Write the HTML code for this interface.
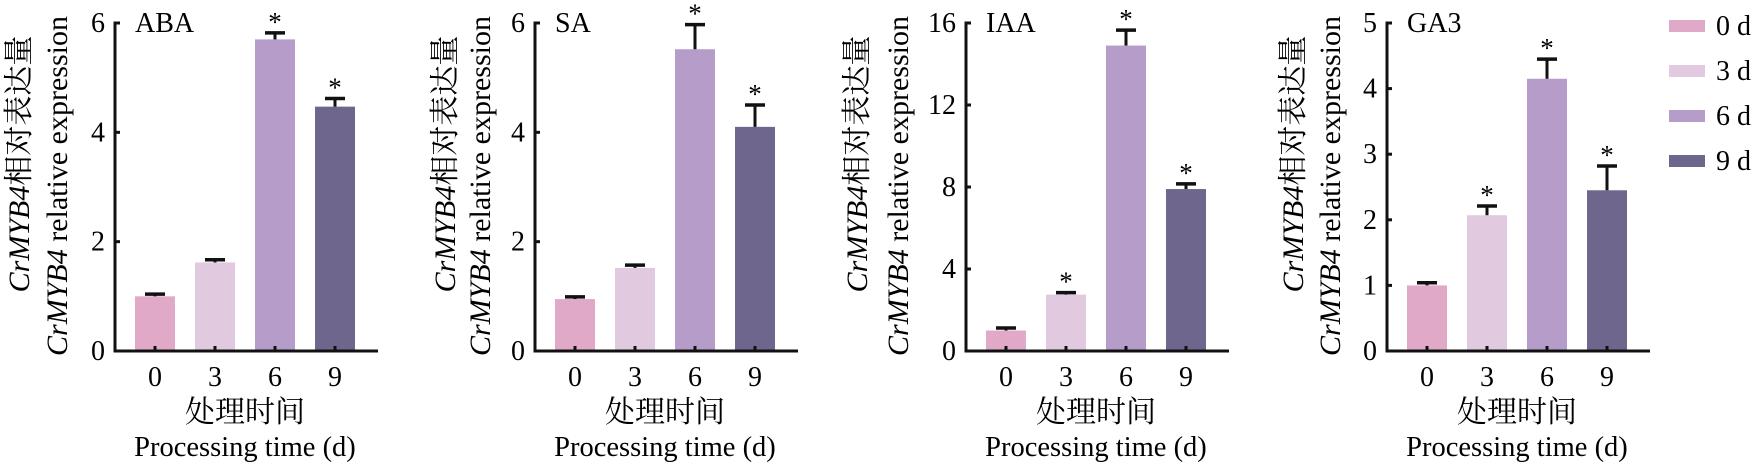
<!DOCTYPE html>
<html><head><meta charset="utf-8"><style>
body{margin:0;background:#fff;}
svg{display:block;font-family:"Liberation Serif","Noto Serif CJK SC",serif;}
</style></head><body>
<svg id="s" width="1757" height="471" viewBox="0 0 1757 471" xmlns="http://www.w3.org/2000/svg"></svg>
<script>
const cols=["#e0a9c8","#e1c9e0","#b69dc9","#6e668d"];
const panels=[
 {A:115,t:"ABA",max:6,ticks:[0,2,4,6],v:[1.0,1.62,5.7,4.47],e:[0.04,0.05,0.12,0.15],st:[0,0,1,1],lab:[-96,-58]},
 {A:535,t:"SA",max:6,ticks:[0,2,4,6],v:[0.95,1.52,5.52,4.1],e:[0.04,0.05,0.45,0.4],st:[0,0,1,1],lab:[-90,-55]},
 {A:966,t:"IAA",max:16,ticks:[0,4,8,12,16],v:[1.0,2.75,14.9,7.9],e:[0.12,0.1,0.75,0.25],st:[0,1,1,1],lab:[-109,-68]},
 {A:1387,t:"GA3",max:5,ticks:[0,1,2,3,4,5],v:[1.0,2.07,4.15,2.45],e:[0.04,0.14,0.3,0.37],st:[0,1,1,1],lab:[-94,-57]}
];
const Y0=351,YT=23;
let h="";
for(const p of panels){
 const A=p.A,sc=(Y0-YT)/p.max;
 for(let i=0;i<4;i++){
  const x=A+20+i*60,top=Y0-p.v[i]*sc,et=Y0-(p.v[i]+p.e[i])*sc,cx=x+20;
  h+=`<rect x="${x}" y="${top}" width="40" height="${Y0-top}" fill="${cols[i]}"/>`;
  h+=`<line x1="${cx}" y1="${top}" x2="${cx}" y2="${et}" stroke="#111" stroke-width="3"/>`;
  h+=`<line x1="${cx-10}" y1="${et}" x2="${cx+10}" y2="${et}" stroke="#111" stroke-width="3.5"/>`;
  h+=`<line x1="${cx}" y1="${Y0}" x2="${cx}" y2="${Y0-5}" stroke="#111" stroke-width="3"/>`;
  if(p.st[i]) h+=`<text x="${cx}" y="${et-2}" font-size="27" text-anchor="middle">*</text>`;
  h+=`<text x="${cx}" y="386" font-size="28" text-anchor="middle">${[0,3,6,9][i]}</text>`;
 }
 h+=`<line x1="${A}" y1="${YT-1.5}" x2="${A}" y2="${Y0+1.5}" stroke="#111" stroke-width="3"/>`;
 h+=`<line x1="${A-1.5}" y1="${Y0}" x2="${A+263}" y2="${Y0}" stroke="#111" stroke-width="3"/>`;
 for(const t of p.ticks){
  const y=Y0-t*sc;
  h+=`<line x1="${A}" y1="${y}" x2="${A+5}" y2="${y}" stroke="#111" stroke-width="3"/>`;
  h+=`<text x="${A-10}" y="${y+9}" font-size="28" text-anchor="end">${t}</text>`;
 }
 h+=`<text x="${A+20}" y="32" font-size="28">${p.t}</text>`;
 h+=`<text x="${A+130}" y="422" font-size="30" text-anchor="middle">处理时间</text>`;
 h+=`<text x="${A+130}" y="456" font-size="28.5" text-anchor="middle">Processing time (d)</text>`;
 const l1=A+p.lab[0]+10,l2=A+p.lab[1]+10;
 h+=`<text transform="translate(${l1},164) rotate(-90)" font-size="30" text-anchor="middle"><tspan font-style="italic">CrMYB4</tspan>相对表达量</text>`;
 h+=`<text transform="translate(${l2},186) rotate(-90)" font-size="30" text-anchor="middle"><tspan font-style="italic">CrMYB4</tspan> relative expression</text>`;
}
const ly=[20,65,110,155];
for(let i=0;i<4;i++){
 h+=`<rect x="1669" y="${ly[i]}" width="36" height="12" fill="${cols[i]}"/>`;
 h+=`<text x="1716" y="${ly[i]+15}" font-size="28">${[0,3,6,9][i]} d</text>`;
}
document.getElementById("s").innerHTML=h;
</script>
</body></html>
